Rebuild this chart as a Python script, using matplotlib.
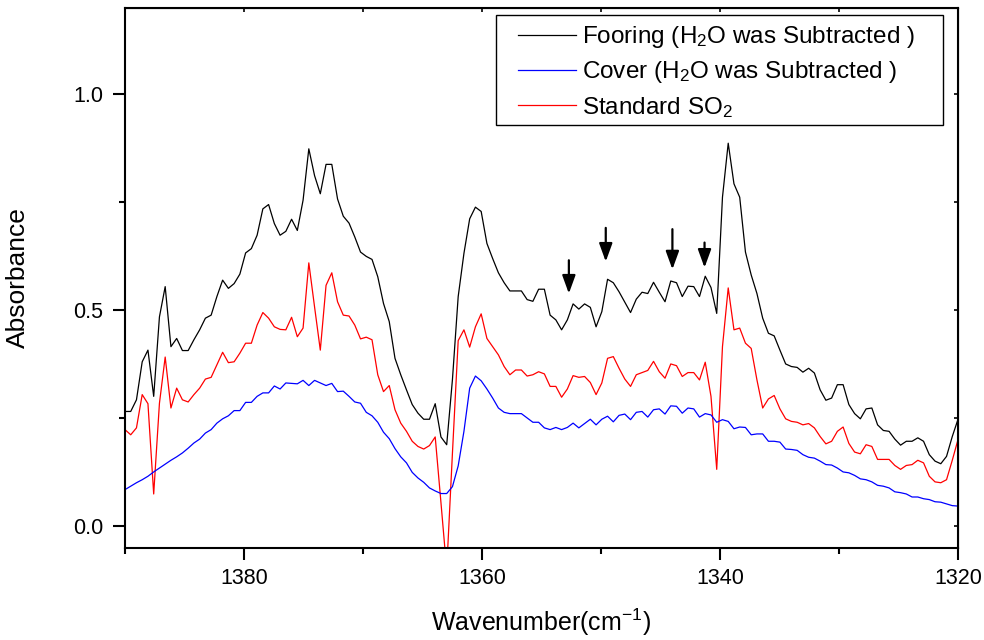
import numpy as np
import matplotlib
matplotlib.use('Agg')
import matplotlib.pyplot as plt
from matplotlib.patches import Rectangle
from matplotlib.ticker import MultipleLocator, FormatStrFormatter

plt.rcParams['font.family'] = ['Liberation Sans', 'DejaVu Sans']
plt.rcParams['mathtext.default'] = 'regular'

# wavenumber grid of the spectra (cm-1), 146 points from 1390 down to 1320
wavenumber = np.linspace(1390, 1320, 146)

fooring = [
    0.266, 0.266, 0.293, 0.381, 0.408, 0.301, 0.485, 0.555, 0.416, 0.435,
    0.407, 0.407, 0.432, 0.455, 0.482, 0.489, 0.532, 0.570, 0.551, 0.562,
    0.584, 0.633, 0.643, 0.674, 0.735, 0.745, 0.701, 0.674, 0.683, 0.711,
    0.685, 0.755, 0.874, 0.812, 0.770, 0.838, 0.838, 0.758, 0.718, 0.702,
    0.670, 0.635, 0.625, 0.618, 0.578, 0.516, 0.474, 0.389, 0.351,
    0.316, 0.282, 0.262, 0.248, 0.248, 0.284, 0.207, 0.189, 0.340,
    0.532, 0.632, 0.712, 0.739, 0.729, 0.655, 0.620, 0.587, 0.564, 0.545,
    0.545, 0.545, 0.525, 0.521, 0.549, 0.549, 0.489, 0.478, 0.455, 0.478,
    0.515, 0.503, 0.515, 0.507, 0.462, 0.497, 0.572, 0.564, 0.543, 0.519,
    0.495, 0.526, 0.542, 0.539, 0.565, 0.542, 0.520, 0.568, 0.564, 0.532,
    0.556, 0.555, 0.532, 0.579, 0.553, 0.493, 0.762, 0.887, 0.793, 0.762,
    0.635, 0.582, 0.539, 0.482, 0.447, 0.441, 0.408, 0.376, 0.370, 0.368,
    0.357, 0.366, 0.355, 0.316, 0.292, 0.297, 0.328, 0.328, 0.282, 0.261,
    0.249, 0.272, 0.274, 0.235, 0.222, 0.220, 0.202, 0.188, 0.197, 0.197,
    0.205, 0.197, 0.166, 0.151, 0.145, 0.162, 0.208, 0.248,
]

standard_so2 = [
    0.224, 0.212, 0.228, 0.305, 0.284, 0.075, 0.285, 0.392, 0.274, 0.320,
    0.293, 0.288, 0.305, 0.320, 0.341, 0.345, 0.374, 0.403, 0.379, 0.381,
    0.401, 0.424, 0.424, 0.466, 0.495, 0.482, 0.462, 0.456, 0.455, 0.484,
    0.439, 0.459, 0.610, 0.508, 0.408, 0.558, 0.587, 0.520, 0.489, 0.487,
    0.466, 0.434, 0.438, 0.432, 0.351, 0.312, 0.326, 0.270, 0.239,
    0.220, 0.197, 0.185, 0.179, 0.187, 0.207, 0.055, -0.100, 0.170,
    0.430, 0.455, 0.415, 0.462, 0.492, 0.435, 0.416, 0.397, 0.370, 0.351,
    0.362, 0.362, 0.348, 0.351, 0.358, 0.353, 0.324, 0.324, 0.299, 0.318,
    0.349, 0.345, 0.347, 0.333, 0.305, 0.332, 0.389, 0.393, 0.366, 0.341,
    0.324, 0.351, 0.356, 0.361, 0.382, 0.358, 0.343, 0.376, 0.372, 0.347,
    0.356, 0.356, 0.339, 0.380, 0.301, 0.132, 0.416, 0.552, 0.455, 0.459,
    0.424, 0.412, 0.339, 0.274, 0.295, 0.303, 0.272, 0.249, 0.243, 0.241,
    0.235, 0.238, 0.228, 0.208, 0.191, 0.197, 0.220, 0.230, 0.192, 0.172,
    0.168, 0.189, 0.185, 0.155, 0.155, 0.155, 0.141, 0.132, 0.141, 0.143,
    0.153, 0.147, 0.116, 0.103, 0.101, 0.108, 0.153, 0.201,
]

cover = [
    0.085, 0.093, 0.101, 0.108, 0.116, 0.126, 0.135, 0.144, 0.153, 0.161,
    0.170, 0.181, 0.193, 0.202, 0.216, 0.224, 0.239, 0.249, 0.256, 0.268,
    0.268, 0.287, 0.287, 0.301, 0.309, 0.309, 0.325, 0.318, 0.332, 0.331,
    0.330, 0.338, 0.326, 0.338, 0.332, 0.326, 0.331, 0.312, 0.313, 0.301,
    0.288, 0.285, 0.264, 0.256, 0.241, 0.218, 0.203, 0.180, 0.161,
    0.147, 0.125, 0.112, 0.102, 0.089, 0.082, 0.076, 0.076, 0.092,
    0.140, 0.220, 0.320, 0.348, 0.337, 0.318, 0.297, 0.274, 0.264, 0.261,
    0.261, 0.261, 0.251, 0.241, 0.241, 0.228, 0.224, 0.229, 0.224, 0.229,
    0.239, 0.228, 0.238, 0.248, 0.235, 0.248, 0.255, 0.242, 0.257, 0.260,
    0.247, 0.264, 0.266, 0.253, 0.270, 0.272, 0.260, 0.279, 0.278, 0.262,
    0.274, 0.272, 0.253, 0.261, 0.258, 0.241, 0.247, 0.243, 0.226, 0.230,
    0.229, 0.212, 0.214, 0.214, 0.197, 0.197, 0.195, 0.179, 0.178, 0.176,
    0.166, 0.160, 0.158, 0.151, 0.143, 0.142, 0.135, 0.126, 0.124, 0.118,
    0.110, 0.108, 0.103, 0.095, 0.093, 0.089, 0.080, 0.078, 0.075, 0.068,
    0.068, 0.064, 0.062, 0.057, 0.056, 0.052, 0.048, 0.047,
]

# arrows marking the weak bands
arrow_wn = [1352.7, 1349.6, 1344.0, 1341.3]
arrow_tail = [0.616, 0.691, 0.688, 0.657]
arrow_tip = [0.539, 0.613, 0.595, 0.599]

fig, ax = plt.subplots(figsize=(9.84, 6.4), dpi=100)
fig.subplots_adjust(left=0.127, right=0.9736, bottom=0.1438, top=0.9875)

l_foor, = ax.plot(wavenumber, fooring, color='black', lw=0.9,
                  label='Fooring (H$_2$O was Subtracted )')
l_std, = ax.plot(wavenumber, standard_so2, color='red', lw=0.9,
                 label='Standard SO$_2$')
l_cov, = ax.plot(wavenumber, cover, color='blue', lw=0.9,
                 label='Cover (H$_2$O was Subtracted )')

for wn, tail, tip in zip(arrow_wn, arrow_tail, arrow_tip):
    ax.annotate('', xy=(wn, tip), xytext=(wn, tail),
                arrowprops=dict(arrowstyle='-|>,head_length=0.55,head_width=0.2',
                                mutation_scale=20, color='black', lw=1.6,
                                shrinkA=0, shrinkB=0))

ax.set_xlim(1390, 1320)
ax.set_ylim(-0.05, 1.2)
ax.xaxis.set_major_locator(MultipleLocator(20))
ax.xaxis.set_minor_locator(MultipleLocator(10))
ax.yaxis.set_major_locator(MultipleLocator(0.5))
ax.yaxis.set_minor_locator(MultipleLocator(0.25))
ax.yaxis.set_major_formatter(FormatStrFormatter('%.1f'))

for sp in ax.spines.values():
    sp.set_linewidth(1.5)
ax.tick_params(which='both', direction='out', width=1.5, labelsize=15.5)
ax.tick_params(which='major', length=8.5)
ax.tick_params(which='minor', length=4.5)
ax.tick_params(axis='x', pad=6)
ax.tick_params(axis='y', pad=7)

# inward ticks on top and right, no labels
top = ax.secondary_xaxis('top')
top.xaxis.set_major_locator(MultipleLocator(20))
top.xaxis.set_minor_locator(MultipleLocator(10))
top.tick_params(which='both', direction='in', width=1.2, length=3, labeltop=False)
right = ax.secondary_yaxis('right')
right.yaxis.set_major_locator(MultipleLocator(0.5))
right.yaxis.set_minor_locator(MultipleLocator(0.25))
right.tick_params(which='both', direction='in', width=1.2, length=3, labelright=False)

ax.set_xlabel('Wavenumber(cm$^{-1}$)', fontsize=18)
ax.set_ylabel('Absorbance', fontsize=19)
ax.xaxis.set_label_coords(0.5, -0.108)
ax.yaxis.set_label_coords(-0.114, 0.5)

# legend without its own frame, plus a box drawn like the original
ax.legend(handles=[l_foor, l_cov, l_std], loc='upper left',
          bbox_to_anchor=(0.4718, 0.970), fontsize=17.5, frameon=False,
          handlelength=2.4, handletextpad=0.25, labelspacing=0.38,
          borderpad=0, borderaxespad=0)
ax.add_patch(Rectangle((0.4454, 0.7833), 0.5366, 0.2037, transform=ax.transAxes,
                       fill=False, edgecolor='black', lw=1.0, zorder=5))

plt.savefig('out.png', dpi=100)
plt.close()
